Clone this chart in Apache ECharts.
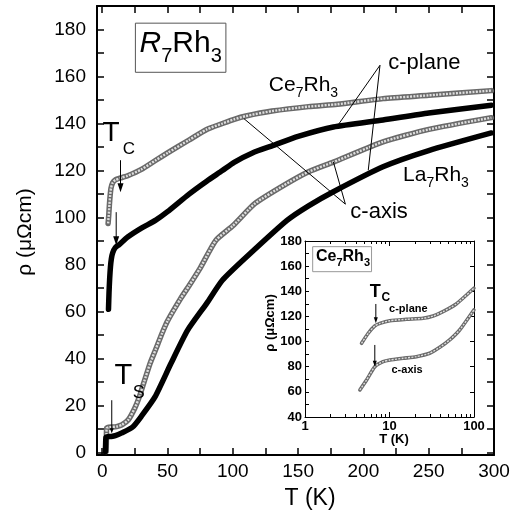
<!DOCTYPE html>
<html>
<head>
<meta charset="utf-8">
<script src="https://cdn.jsdelivr.net/npm/echarts@6/dist/echarts.min.js"></script>
<style>
  html, body { margin: 0; padding: 0; background: #fff; }
  #chart { width: 520px; height: 515px; }
</style>
</head>
<body>
<div id="chart"></div>
<script>
// Electrical resistivity of R7Rh3 single crystals (Ce7Rh3 and La7Rh3)

// Ce7Rh3, open symbols
const ceOpenT   = [4.5, 5, 5.5, 6, 6.7, 8, 10, 15, 19.5, 30, 41, 50, 66.5, 80, 92, 101, 110, 130, 158, 180, 215, 250, 298];
const ceOpenRho = [97.5, 101, 105.5, 109, 112.5, 114.8, 116, 117, 117.8, 120.5, 124.4, 127.5, 133, 137.5, 140, 141.8, 143.2, 145.3, 147.2, 148.2, 150.6, 152, 154];

// Ce7Rh3, solid symbols
const ceSolidT   = [4.8, 5.2, 5.7, 6.3, 7, 8, 10, 13, 19.5, 30, 41, 50, 66.5, 80, 92, 101, 115, 131, 150, 177, 215, 250, 298];
const ceSolidRho = [61, 68, 74, 79, 82.5, 85, 87.2, 88.5, 91.7, 95.5, 98.9, 102.5, 110, 115.5, 120, 123.5, 127.5, 130.7, 134.5, 138.5, 141.5, 144.5, 147.8];

// La7Rh3, open symbols
const laOpenT   = [3.0, 3.1, 3.2, 3.4, 5, 8, 11, 15, 20, 25, 28.4, 32, 36.6, 41, 46, 50, 60, 66.5, 75, 87, 100, 117, 139, 158, 177, 215, 250, 298];
const laOpenRho = [0.5, 3, 6.5, 10.4, 10.8, 10.9, 11.1, 11.8, 14, 19, 23.7, 30, 37.9, 44, 51, 56, 65.5, 71, 78.5, 90.3, 96.5, 106, 113.7, 119.5, 123.6, 132.2, 137.5, 142.5];

// La7Rh3, solid symbols
const laSolidT   = [2.4, 2.6, 2.9, 4, 7, 10, 15, 23.3, 30, 40.4, 52.6, 65.3, 80, 92, 110, 141.5, 158, 177, 215, 250, 298];
const laSolidRho = [0.5, 3.5, 6.6, 6.8, 6.9, 7.2, 8.4, 10.9, 15.5, 23.7, 37.9, 52, 63.5, 73.3, 83, 98.8, 105, 111, 121.6, 128.5, 136];

// Inset: Ce7Rh3 on a logarithmic temperature scale
const insetPlaneT   = [4.67, 5.6, 6.7, 7.7, 10.1, 15.9, 24.9, 32.8, 42.9, 61.6, 99.7];
const insetPlaneRho = [98.6, 106.6, 112.4, 114.5, 116.6, 117.7, 118.5, 120.3, 123.8, 129.9, 142.4];
const insetAxisT    = [4.46, 5.35, 6.7, 8.4, 10.1, 14.5, 20.8, 29.9, 39.3, 51.5, 67.6, 99.7];
const insetAxisRho  = [61.5, 69.4, 80, 84, 85.3, 86.7, 88, 90.7, 95.4, 101.3, 109.2, 125.1];

// Ticks and tick labels
const xTicks  = [0, 25, 50, 75, 100, 125, 150, 175, 200, 225, 250, 275, 300];
const xLabels = [0, 50, 100, 150, 200, 250, 300];
const yTicks  = [0, 10, 20, 30, 40, 50, 60, 70, 80, 90, 100, 110, 120, 130, 140, 150, 160, 170, 180];
const yLabels = [0, 20, 40, 60, 80, 100, 120, 140, 160, 180];
const insetXLabels = [1, 10, 100];
const insetXMinor  = [2, 3, 4, 5, 6, 7, 8, 9, 20, 30, 40, 50, 60, 70, 80, 90];
const insetYTicks  = [40, 50, 60, 70, 80, 90, 100, 110, 120, 130, 140, 150, 160, 170, 180];
const insetYLabels = [40, 60, 80, 100, 120, 140, 160, 180];

const FAMILY = "'Liberation Sans', Arial, Helvetica, sans-serif";
const SMOOTH = 0.2;

function pairs(t, r) { return t.map((v, i) => [v, r[i]]); }

const chart = echarts.init(document.getElementById('chart'), null, { renderer: 'canvas' });

// Open-symbol curves: dark outline with a light, broken core
function openCurve(t, r, xi, yi, wide, thin) {
  const data = pairs(t, r);
  const common = { type: 'line', xAxisIndex: xi, yAxisIndex: yi, data: data, showSymbol: false,
                   smooth: SMOOTH, silent: true, animation: false };
  return [
    Object.assign({}, common, { lineStyle: { color: '#6a6a6a', width: wide, cap: 'round', join: 'round' }, z: 2 }),
    Object.assign({}, common, { lineStyle: { color: '#dedede', width: thin, type: [2, 1.3] }, z: 3 })
  ];
}
function solidCurve(t, r, xi, yi, width) {
  return [{ type: 'line', xAxisIndex: xi, yAxisIndex: yi, data: pairs(t, r), showSymbol: false,
            smooth: SMOOTH, silent: true, animation: false,
            lineStyle: { color: '#000', width: width, cap: 'round', join: 'round' }, z: 4 }];
}

const mainLine = { show: true, onZero: false, lineStyle: { color: '#000', width: 2 } };
const insetLine = { show: true, onZero: false, lineStyle: { color: '#000', width: 1 } };
const noLine = { show: false, onZero: false };

const option = {
  backgroundColor: '#fff',
  animation: false,
  grid: [
    { left: 97, top: 6, width: 397, height: 449 },
    { left: 305, top: 241, width: 169, height: 176 }
  ],
  xAxis: [
    { gridIndex: 0, type: 'value', position: 'bottom', min: -4, max: 300,
      axisLine: mainLine, splitLine: { show: false },
      axisTick: { inside: true, length: 7, customValues: xTicks, lineStyle: { color: '#000', width: 1.5 } },
      axisLabel: { customValues: xLabels, fontSize: 19, fontFamily: FAMILY, color: '#000', margin: 7 } },
    { gridIndex: 0, type: 'value', position: 'top', min: -4, max: 300,
      axisLine: mainLine, splitLine: { show: false },
      axisTick: { inside: true, length: 7, customValues: xTicks, lineStyle: { color: '#000', width: 1.5 } },
      axisLabel: { show: false } },
    { gridIndex: 1, type: 'log', logBase: 10, position: 'bottom', min: 1, max: 100,
      axisLine: insetLine, splitLine: { show: false },
      axisTick: { inside: true, length: 5, customValues: insetXLabels, lineStyle: { color: '#000', width: 1 } },
      axisLabel: { customValues: insetXLabels, fontSize: 13, fontWeight: 'bold', fontFamily: FAMILY, color: '#000', margin: 3 } },
    { gridIndex: 1, type: 'log', logBase: 10, position: 'bottom', min: 1, max: 100,
      axisLine: noLine, splitLine: { show: false },
      axisTick: { inside: true, length: 3, customValues: insetXMinor, lineStyle: { color: '#000', width: 1 } },
      axisLabel: { show: false } },
    { gridIndex: 1, type: 'log', logBase: 10, position: 'top', min: 1, max: 100,
      axisLine: insetLine, splitLine: { show: false },
      axisTick: { inside: true, length: 5, customValues: insetXLabels, lineStyle: { color: '#000', width: 1 } },
      axisLabel: { show: false } },
    { gridIndex: 1, type: 'log', logBase: 10, position: 'top', min: 1, max: 100,
      axisLine: noLine, splitLine: { show: false },
      axisTick: { inside: true, length: 3, customValues: insetXMinor, lineStyle: { color: '#000', width: 1 } },
      axisLabel: { show: false } }
  ],
  yAxis: [
    { gridIndex: 0, type: 'value', position: 'left', min: -1, max: 190,
      axisLine: mainLine, splitLine: { show: false },
      axisTick: { inside: true, length: 7, customValues: yTicks, lineStyle: { color: '#000', width: 1.5 } },
      axisLabel: { customValues: yLabels, fontSize: 19, fontFamily: FAMILY, color: '#000', margin: 11 } },
    { gridIndex: 0, type: 'value', position: 'right', min: -1, max: 190,
      axisLine: mainLine, splitLine: { show: false },
      axisTick: { inside: true, length: 7, customValues: yTicks, lineStyle: { color: '#000', width: 1.5 } },
      axisLabel: { show: false } },
    { gridIndex: 1, type: 'value', position: 'left', min: 40, max: 180,
      axisLine: insetLine, splitLine: { show: false },
      axisTick: { inside: true, length: 4, customValues: insetYTicks, lineStyle: { color: '#000', width: 1 } },
      axisLabel: { customValues: insetYLabels, fontSize: 13, fontWeight: 'bold', fontFamily: FAMILY, color: '#000', margin: 3 } },
    { gridIndex: 1, type: 'value', position: 'right', min: 40, max: 180,
      axisLine: insetLine, splitLine: { show: false },
      axisTick: { inside: true, length: 4, customValues: insetYLabels, lineStyle: { color: '#000', width: 1 } },
      axisLabel: { show: false } }
  ],
  series: [].concat(
    openCurve(ceOpenT, ceOpenRho, 0, 0, 5.5, 2.4),
    solidCurve(ceSolidT, ceSolidRho, 0, 0, 5.5),
    openCurve(laOpenT, laOpenRho, 0, 0, 5.5, 2.4),
    solidCurve(laSolidT, laSolidRho, 0, 0, 5.5),
    openCurve(insetPlaneT, insetPlaneRho, 2, 2, 3.6, 1.4),
    openCurve(insetAxisT, insetAxisRho, 2, 2, 3.6, 1.4)
  )
};
chart.setOption(option);

// ---- annotations, placed in data coordinates of each panel ----
const measureCtx = document.createElement('canvas').getContext('2d');
function textWidth(str, font) { measureCtx.font = font; return measureCtx.measureText(str).width; }
function mainPx(t, r) { return chart.convertToPixel({ xAxisIndex: 0, yAxisIndex: 0 }, [t, r]); }
function insetPx(t, r) { return chart.convertToPixel({ xAxisIndex: 2, yAxisIndex: 2 }, [t, r]); }

function text(p, str, font, align) {
  return { type: 'text', z: 100, silent: true,
           style: { text: str, x: p[0], y: p[1], font: font, fill: '#000',
                    textAlign: align || 'left', textVerticalAlign: 'middle', verticalAlign: 'middle' } };
}
// chemical formula with subscripts; parts = [text, isSubscript, isItalic]
function formula(p, parts, size, subSize, drop, weight) {
  const out = [];
  let x = p[0];
  parts.forEach(function (part) {
    const f = (part[2] ? 'italic ' : 'normal ') + (weight || 'normal') + ' ' +
              (part[1] ? subSize : size) + 'px ' + FAMILY;
    out.push(text([x, p[1] + (part[1] ? drop : 0)], part[0], f));
    x += textWidth(part[0], f);
  });
  return out;
}
function seg(a, b, w) {
  return { type: 'line', z: 100, silent: true,
           shape: { x1: a[0], y1: a[1], x2: b[0], y2: b[1] },
           style: { stroke: '#000', lineWidth: w || 1 } };
}
function arrowDown(top, tip, len, half, w) {
  return [
    seg(top, [tip[0], tip[1] - len * 0.6], w),
    { type: 'polygon', z: 100, silent: true,
      shape: { points: [[tip[0] - half, tip[1] - len], [tip[0] + half, tip[1] - len], [tip[0], tip[1]]] },
      style: { fill: '#000' } }
  ];
}

const els = [];

// title box
const boxA = mainPx(25.4, 182.7), boxB = mainPx(94.7, 161.8);
els.push({ type: 'rect', z: 99, silent: true,
           shape: { x: boxA[0], y: boxA[1], width: boxB[0] - boxA[0], height: boxB[1] - boxA[1] },
           style: { fill: '#fff', stroke: '#555', lineWidth: 1 } });
Array.prototype.push.apply(els, formula(mainPx(28.6, 173.8),
  [['R', false, true], ['7', true], ['Rh', false], ['3', true]], 30, 20, 12));

// compound labels
Array.prototype.push.apply(els, formula(mainPx(127.6, 156.3),
  [['Ce', false], ['7', true], ['Rh', false], ['3', true]], 21, 14, 8));
Array.prototype.push.apply(els, formula(mainPx(230.4, 118.2),
  [['La', false], ['7', true], ['Rh', false], ['3', true]], 21, 14, 8));

// c-plane / c-axis pointers
els.push(text(mainPx(219, 165.7), 'c-plane', '22px ' + FAMILY));
els.push(seg(mainPx(212.7, 164.8), mainPx(179.6, 138.6)));
els.push(seg(mainPx(212.7, 164.8), mainPx(203.7, 120.1)));
els.push(text(mainPx(190, 102.3), 'c-axis', '22px ' + FAMILY));
els.push(seg(mainPx(186.2, 105.7), mainPx(108.5, 142.1)));
els.push(seg(mainPx(186.2, 105.7), mainPx(177, 123.7)));

// transition temperatures
els.push(text(mainPx(0.2, 135.9), 'T', '28px ' + FAMILY));
els.push(text(mainPx(15.7, 129.1), 'C', '17px ' + FAMILY));
Array.prototype.push.apply(els, arrowDown(mainPx(14, 124.4), mainPx(14, 110.8), 9, 3));
Array.prototype.push.apply(els, arrowDown(mainPx(10.7, 102.3), mainPx(10.7, 88.2), 9, 3));
els.push(text(mainPx(9.4, 32.5), 'T', '29px ' + FAMILY));
els.push(text(mainPx(23.3, 25.2), 'S', '18px ' + FAMILY));
Array.prototype.push.apply(els, arrowDown(mainPx(7.3, 22.3), mainPx(7.3, 8.2), 5, 2));

// axis titles
els.push(text([310, 499], 'T (K)', '23px ' + FAMILY, 'center'));
els.push({ type: 'text', z: 100, silent: true, x: 25, y: 232, rotation: Math.PI / 2,
           style: { text: 'ρ (μΩcm)', x: 0, y: 0, font: '21px ' + FAMILY, fill: '#000',
                    textAlign: 'center', textVerticalAlign: 'middle', verticalAlign: 'middle' } });

// inset annotations
const ibA = insetPx(1.233, 175.5), ibB = insetPx(6.13, 155.6);
els.push({ type: 'rect', z: 99, silent: true,
           shape: { x: ibA[0], y: ibA[1], width: ibB[0] - ibA[0], height: ibB[1] - ibA[1] },
           style: { fill: '#fff', stroke: '#999', lineWidth: 1 } });
Array.prototype.push.apply(els, formula(insetPx(1.349, 167.3),
  [['Ce', false], ['7', true], ['Rh', false], ['3', true]], 16, 11, 6, 'bold'));
els.push(text(insetPx(5.85, 139.7), 'T', 'bold 18px ' + FAMILY));
els.push(text(insetPx(8.05, 135.1), 'C', 'bold 12px ' + FAMILY));
els.push(text(insetPx(9.89, 125.7), 'c-plane', 'bold 11px ' + FAMILY));
els.push(text(insetPx(10.56, 77.6), 'c-axis', 'bold 11px ' + FAMILY));
Array.prototype.push.apply(els, arrowDown(insetPx(6.89, 129.9), insetPx(6.89, 114.5), 6, 2));
Array.prototype.push.apply(els, arrowDown(insetPx(6.7, 97.3), insetPx(6.7, 80), 6, 2));
els.push(text([394, 439], 'T (K)', 'bold 13px ' + FAMILY, 'center'));
els.push({ type: 'text', z: 100, silent: true, x: 270, y: 323, rotation: Math.PI / 2,
           style: { text: 'ρ (μΩcm)', x: 0, y: 0, font: 'bold 13px ' + FAMILY, fill: '#000',
                    textAlign: 'center', textVerticalAlign: 'middle', verticalAlign: 'middle' } });

chart.setOption({ graphic: { elements: els } });
</script>
</body>
</html>
